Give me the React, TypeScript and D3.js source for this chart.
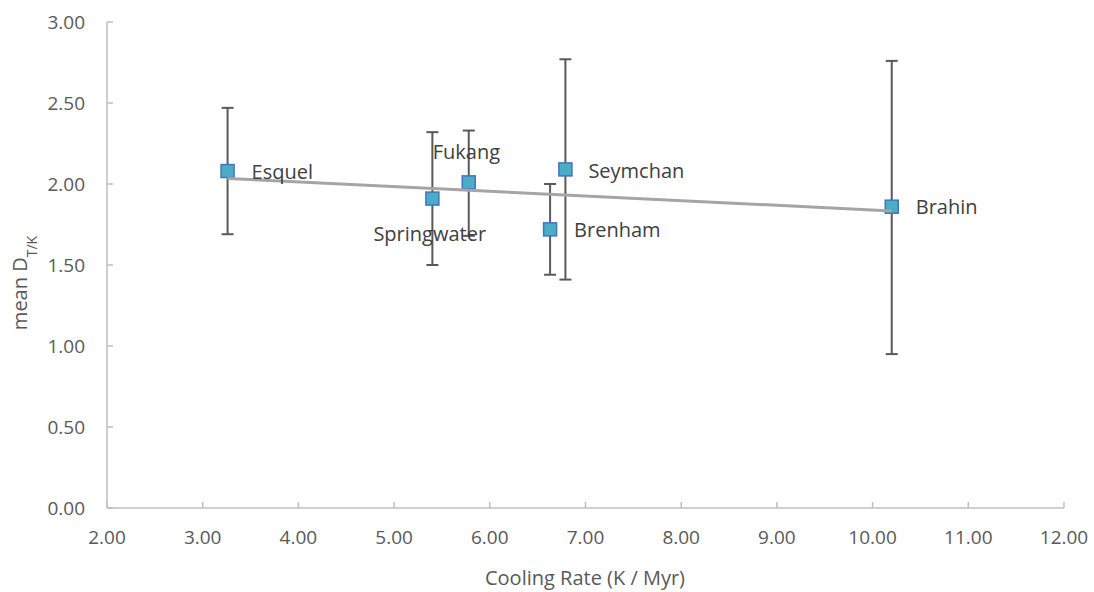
import React from "react";
import * as d3 from "d3";

const names = ["Esquel", "Springwater", "Fukang", "Brenham", "Seymchan", "Brahin"];
const coolingRate = [3.26, 5.4, 5.78, 6.63, 6.79, 10.2];
const meanD = [2.08, 1.91, 2.01, 1.72, 2.09, 1.86];
const errLow = [1.69, 1.5, 1.68, 1.44, 1.41, 0.95];
const errHigh = [2.47, 2.32, 2.33, 2.0, 2.77, 2.76];
const labelDx = [24, -59, -36, 24, 23, 24];
const labelDy = [1, 35, -30, 1, 1.5, 0];
const xTicks = [2, 3, 4, 5, 6, 7, 8, 9, 10, 11, 12];
const yTicks = [0, 0.5, 1, 1.5, 2, 2.5, 3];

export default function App() {
  const W = 1094, H = 592;
  const x = d3.scaleLinear().domain([2, 12]).range([107, 1064]);
  const y = d3.scaleLinear().domain([0, 3]).range([508, 22]);
  const font = "Open Sans, Calibri, sans-serif";
  const tc = "#595959";

  const mx = d3.mean(coolingRate)!;
  const my = d3.mean(meanD)!;
  let sxy = 0, sxx = 0;
  coolingRate.forEach((v, i) => {
    sxy += (v - mx) * (meanD[i] - my);
    sxx += (v - mx) * (v - mx);
  });
  const slope = sxy / sxx;
  const icpt = my - slope * mx;
  const x0 = d3.min(coolingRate)!, x1 = d3.max(coolingRate)!;
  const line = d3.line<number>().x((d) => x(d)).y((d) => y(icpt + slope * d));

  return (
    <svg width={W} height={H} style={{ position: "absolute", left: 0, top: 0, background: "#fff" }}>
      <line x1={x(2)} x2={x(12)} y1={y(0)} y2={y(0)} stroke="#BFBFBF" strokeWidth={1.5} />
      <line x1={x(2)} x2={x(2)} y1={y(0)} y2={y(3)} stroke="#BFBFBF" strokeWidth={1.5} />
      {yTicks.map((t) => (
        <g key={"y" + t}>
          <line x1={x(2)} x2={x(2) + 6} y1={y(t)} y2={y(t)} stroke="#BFBFBF" strokeWidth={1.5} />
          <text x={85} y={y(t)} dy="0.35em" textAnchor="end" fontFamily={font} fontSize={19} fill={tc}>
            {t.toFixed(2)}
          </text>
        </g>
      ))}
      {xTicks.map((t) => (
        <g key={"x" + t}>
          <line x1={x(t)} x2={x(t)} y1={y(0)} y2={y(0) - 6} stroke="#BFBFBF" strokeWidth={1.5} />
          <text x={x(t)} y={537} dy="0.35em" textAnchor="middle" fontFamily={font} fontSize={19} fill={tc}>
            {t.toFixed(2)}
          </text>
        </g>
      ))}
      <text x={585} y={578} dy="0.35em" textAnchor="middle" fontFamily={font} fontSize={20} fill={tc}>
        Cooling Rate (K / Myr)
      </text>
      <text transform={`translate(27,283) rotate(-90)`} textAnchor="middle" fontFamily={font} fontSize={20} fill={tc}>
        mean D<tspan baselineShift="sub" fontSize={14}>T/K</tspan>
      </text>

      {names.map((n, i) => (
        <g key={"e" + n} stroke="#595959" strokeWidth={2}>
          <line x1={x(coolingRate[i])} x2={x(coolingRate[i])} y1={y(errLow[i])} y2={y(errHigh[i])} />
          <line x1={x(coolingRate[i]) - 6} x2={x(coolingRate[i]) + 6} y1={y(errLow[i])} y2={y(errLow[i])} />
          <line x1={x(coolingRate[i]) - 6} x2={x(coolingRate[i]) + 6} y1={y(errHigh[i])} y2={y(errHigh[i])} />
        </g>
      ))}

      {names.map((n, i) => (
        <rect
          key={"m" + n}
          x={x(coolingRate[i]) - 6.5}
          y={y(meanD[i]) - 6.5}
          width={13}
          height={13}
          fill="#4BACC6"
          stroke="#4472C4"
          strokeWidth={1.5}
        />
      ))}

      <path d={line([x0, x1]) || ""} stroke="#A5A5A5" strokeWidth={3} fill="none" />

      {names.map((n, i) => (
        <text
          key={"l" + n}
          x={x(coolingRate[i]) + labelDx[i]}
          y={y(meanD[i]) + labelDy[i]}
          dy="0.35em"
          fontFamily={font}
          fontSize={20}
          fill="#404040"
        >
          {n}
        </text>
      ))}
    </svg>
  );
}
